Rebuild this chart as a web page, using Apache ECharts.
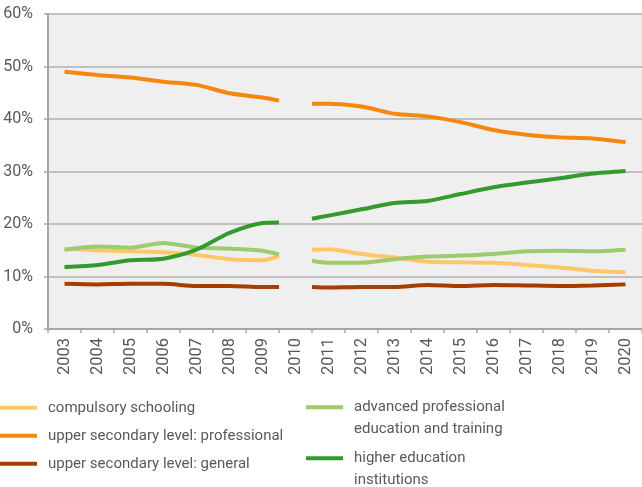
<!DOCTYPE html>
<html>
<head>
<meta charset="utf-8">
<script src="https://cdn.jsdelivr.net/npm/echarts@6/dist/echarts.min.js"></script>
<style>
  html, body { margin: 0; padding: 0; background: #fff; }
  #chart { width: 642px; height: 487px; }
</style>
</head>
<body>
<div id="chart"></div>
<script>
// years on the axis, 2010 has no data (break in the series)
var years = [2003, 2004, 2005, 2006, 2007, 2008, 2009, 2010, 2011, 2012,
             2013, 2014, 2015, 2016, 2017, 2018, 2019, 2020];
// end of first segment / start of second segment
var breakX = [2009.5, 2010.5];

var compulsory = [15.3, 15.0, 14.8, 14.6, 14.1, 13.3, 13.1, null, 15.2, 14.3, 13.6, 12.8, 12.7, 12.6, 12.2, 11.7, 11.1, 10.8];
var compulsoryBreak = [13.9, 15.1];

var professional = [49.0, 48.4, 47.9, 47.1, 46.5, 44.9, 44.1, null, 42.9, 42.4, 41.0, 40.5, 39.4, 37.9, 37.0, 36.5, 36.3, 35.6];
var professionalBreak = [43.5, 42.9];

var general = [8.6, 8.5, 8.6, 8.6, 8.2, 8.2, 8.0, null, 7.9, 8.0, 8.0, 8.4, 8.2, 8.4, 8.3, 8.2, 8.3, 8.5];
var generalBreak = [8.0, 8.0];

var advanced = [15.1, 15.7, 15.5, 16.4, 15.5, 15.3, 14.9, null, 12.6, 12.6, 13.3, 13.8, 14.0, 14.3, 14.8, 14.9, 14.8, 15.1];
var advancedBreak = [14.2, 13.0];

var higher = [11.8, 12.2, 13.1, 13.4, 15.1, 18.3, 20.2, null, 21.6, 22.8, 24.0, 24.4, 25.7, 27.0, 27.9, 28.7, 29.6, 30.1];
var higherBreak = [20.3, 21.0];

var yTicks = [0, 10, 20, 30, 40, 50, 60];

function buildData(vals, brk) {
  var out = [];
  for (var i = 0; i < years.length; i++) {
    if (years[i] === 2010) {
      out.push([breakX[0], brk[0]]);
      out.push([2010, '-']);
      out.push([breakX[1], brk[1]]);
    } else {
      out.push([years[i], vals[i]]);
    }
  }
  return out;
}

var txt = '#595959';
var font = 'Roboto';

function makeSeries(name, color, vals, brk) {
  return {
    name: name,
    type: 'line',
    xAxisIndex: 1,
    data: buildData(vals, brk),
    smooth: 0.25,
    symbol: 'none',
    connectNulls: false,
    color: color,
    lineStyle: { width: 4, color: color, cap: 'butt' }
  };
}

// two-line names get an empty first line so the icon sits on the first text line
function makeLegend(name, left, top, twoLines) {
  return {
    data: [name],
    left: left,
    top: top,
    padding: 0,
    icon: 'rect',
    itemWidth: 37,
    itemHeight: 4,
    formatter: function (n) {
      return twoLines ? '\n' + n : n;
    },
    textStyle: {
      fontFamily: font,
      fontSize: 15,
      color: txt,
      lineHeight: 21.5,
      padding: [0, 0, 0, 6]
    }
  };
}

var names = [
  'compulsory schooling',
  'upper secondary level: professional',
  'upper secondary level: general',
  'advanced professional\neducation and training',
  'higher education\ninstitutions'
];

var myChart = echarts.init(document.getElementById('chart'));
var option = {
  animation: false,
  textStyle: { fontFamily: font },
  grid: {
    left: 48,
    right: 0,
    top: 14,
    bottom: 158,
    show: true,
    backgroundColor: '#efefef',
    borderWidth: 0
  },
  legend: [
    makeLegend(names[0], 0, 397, false),
    makeLegend(names[1], 0, 425, false),
    makeLegend(names[2], 0, 453, false),
    makeLegend(names[3], 306, 375, true),
    makeLegend(names[4], 306, 426, true)
  ],
  xAxis: [
    {
      type: 'category',
      data: years,
      boundaryGap: true,
      axisLine: { lineStyle: { color: '#a6a6a6', width: 2 } },
      axisTick: { show: true, length: 4, lineStyle: { color: '#a6a6a6', width: 1.5 } },
      axisLabel: {
        rotate: 90,
        margin: 9,
        fontSize: 16.5,
        color: txt,
        interval: 0
      },
      splitLine: { show: false }
    },
    {
      type: 'value',
      min: 2002.5,
      max: 2020.5,
      show: false,
      splitLine: { show: false }
    }
  ],
  yAxis: {
    type: 'value',
    min: yTicks[0],
    max: yTicks[yTicks.length - 1],
    interval: 10,
    axisLine: { show: true, lineStyle: { color: '#a6a6a6', width: 2 } },
    axisTick: { show: true, length: 4, lineStyle: { color: '#a6a6a6', width: 1.5 } },
    axisLabel: {
      formatter: '{value}%',
      margin: 15,
      fontSize: 16,
      color: txt
    },
    splitLine: { lineStyle: { color: '#b0b0b0', width: 1.5 } }
  },
  series: [
    makeSeries(names[0], '#ffc766', compulsory, compulsoryBreak),
    makeSeries(names[1], '#f5870c', professional, professionalBreak),
    makeSeries(names[2], '#a33f00', general, generalBreak),
    makeSeries(names[3], '#9dcb6e', advanced, advancedBreak),
    makeSeries(names[4], '#339a2e', higher, higherBreak)
  ]
};
myChart.setOption(option);
window.addEventListener('resize', function () {
  myChart.resize();
});
</script>
</body>
</html>
